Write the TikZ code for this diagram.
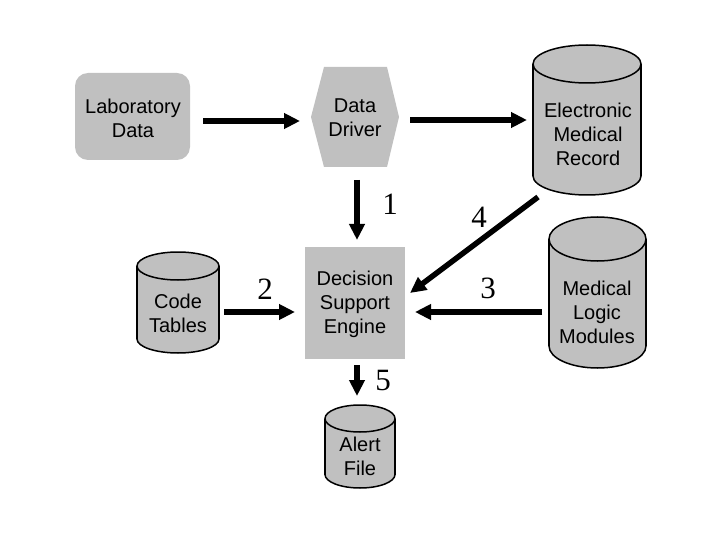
\documentclass[tikz,border=0pt]{standalone}
\usepackage{fontspec}
\setmainfont{Liberation Sans}
\newfontfamily\digitfont{Liberation Serif}
\usetikzlibrary{arrows.meta}
\definecolor{boxgray}{RGB}{192,192,192}
\tikzset{
  lbl/.style={font=\fontsize{20}{24}\selectfont, align=center, inner sep=0pt},
  num/.style={font=\digitfont\fontsize{31}{31}\selectfont, inner sep=0pt},
  frame/.style={inner sep=0pt, outer sep=0pt},
  grayshape/.style={fill=boxgray, draw=none},
  cylst/.style={fill=boxgray, draw=black, line width=1.5pt},
  arr/.style={line width=5.5pt, -{Triangle[length=16pt,width=15pt]}},
}
\newcommand\drawcyl[5]{%
  \filldraw[cylst] (#1,#3-#5) ellipse ({#4} and {#5});
  \fill[boxgray] (#1-#4,#2+#5) rectangle (#1+#4,#3-#5);
  \draw[line width=1.5pt] (#1-#4,#2+#5) -- (#1-#4,#3-#5) (#1+#4,#2+#5) -- (#1+#4,#3-#5);
  \filldraw[cylst] (#1,#2+#5) ellipse ({#4} and {#5});}
\begin{document}
\begin{tikzpicture}[x=1pt,y=-1pt]
\useasboundingbox (0,0) rectangle (720,540);
\fill[white] (0,0) rectangle (720,540);
% Laboratory Data
\node[frame, grayshape, rounded corners=13pt, minimum width=115pt, minimum height=87pt] (lab) at (132.5,116.5) {};
\node[lbl] (labt) at (133,118) {Laboratory\\Data};
% Data Driver hexagon
\node[frame, minimum width=88pt, minimum height=100pt] (drv) at (355,117) {};
\fill[boxgray] (311,117) -- (324,67) -- (387,67) -- (399,117) -- (387,167) -- (324,167) -- cycle;
\node[lbl] (drvt) at (355,118) {Data\\Driver};
% Decision Support Engine
\node[frame, grayshape, minimum width=100pt, minimum height=112pt] (dse) at (355,303) {};
\node[lbl] (dset) at (355,304) {Decision\\Support\\Engine};
% Electronic Medical Record
\node[frame, minimum width=108pt, minimum height=150pt] (emr) at (587,120) {};
\drawcyl{587}{45}{195}{54}{19}
\node[lbl] (emrt) at (588,134) {Electronic\\Medical\\Record};
% Medical Logic Modules
\node[frame, minimum width=97pt, minimum height=151pt] (mlm) at (597.5,292.5) {};
\drawcyl{597.5}{217}{368}{48.5}{22}
\node[lbl] (mlmt) at (597,312) {Medical\\Logic\\Modules};
% Code Tables
\node[frame, minimum width=82pt, minimum height=101pt] (ct) at (178,302.5) {};
\drawcyl{178}{252}{353}{41}{14}
\node[lbl] (ctt) at (178,313) {Code\\Tables};
% Alert File
\node[frame, minimum width=70pt, minimum height=83pt] (alert) at (360,446.5) {};
\drawcyl{360}{405}{488}{35}{13.5}
\node[lbl] (alertt) at (360,456) {Alert\\File};
% connectors
\draw[arr] ([xshift=13pt,yshift=-4.5pt]lab.east) -- ([xshift=-11pt,yshift=-4pt]drv.west);
\draw[arr] ([xshift=11pt,yshift=-3pt]drv.east) -- ([xshift=-6pt]emr.west);
\draw[arr] ([xshift=2pt,yshift=-13pt]drv.south) -- ([xshift=2pt,yshift=7pt]dse.north);
\draw[arr] ([xshift=5pt,yshift=-9.5pt]ct.east) -- ([xshift=-10pt,yshift=-9pt]dse.west);
\draw[arr] ([xshift=-49pt,yshift=-2pt]emr.south) -- ([xshift=5pt,yshift=10pt]dse.east);
\draw[arr] ([xshift=-7pt,yshift=-19.5pt]mlm.west) -- ([xshift=10pt,yshift=-9pt]dse.east);
\draw[arr] ([xshift=2pt,yshift=-6pt]dse.south) -- ([xshift=-3pt,yshift=9pt]alert.north);
% labels
\node[num] (n1) at (390,204) {1};
\node[num] (n2) at (265,289) {2};
\node[num] (n3) at (488,288) {3};
\node[num] (n4) at (479,217) {4};
\node[num] (n5) at (383,380) {5};
\end{tikzpicture}
\end{document}
